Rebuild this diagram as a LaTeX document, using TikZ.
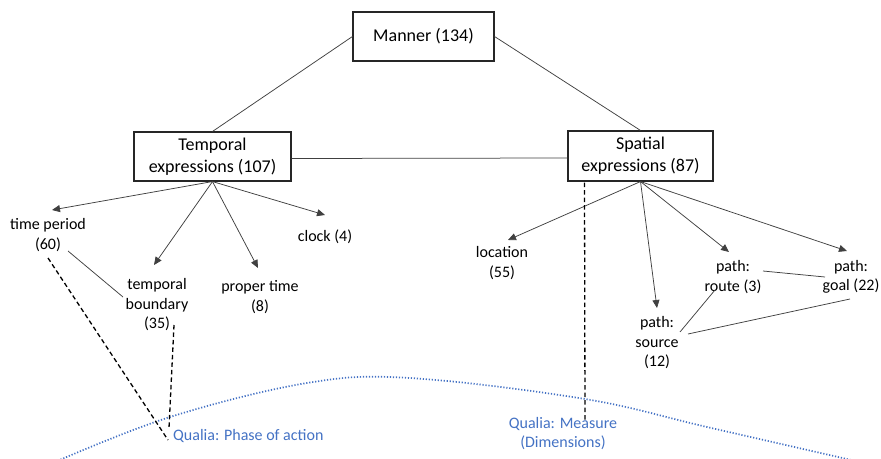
\documentclass[tikz,border=0pt]{standalone}
\usepackage{fontspec}
\setmainfont{Carlito}
\usetikzlibrary{arrows.meta,calc}
\definecolor{qblue}{HTML}{4472C4}
\definecolor{lgray}{HTML}{404040}
\begin{document}
\begin{tikzpicture}[x=1pt,y=-1pt,
  catbox/.style={draw=black!85,line width=1.1pt,align=center,inner sep=0pt,
     font=\fontsize{18}{22}\selectfont},
  leaf/.style={align=center,inner sep=1pt,font=\fontsize{16}{19.5}\selectfont},
  qual/.style={align=center,inner sep=1pt,text=qblue,font=\fontsize{16}{19}\selectfont},
  conn/.style={draw=lgray,line width=0.75pt},
  arr/.style={conn,-{Triangle[length=8pt,width=7pt]}},
  dsh/.style={draw=black,line width=1.3pt,dash pattern=on 4.5pt off 3pt},
  dotb/.style={draw=qblue,line width=1.7pt,dash pattern=on 1.2pt off 1.8pt}]
\useasboundingbox (0,0) rectangle (881,458);
\begin{scope}
\clip (0,0) rectangle (881,458);
\draw[dotb] plot[smooth,tension=0.6] coordinates {(55,462) (170,417) (307,383) (410,378) (585,399) (707,427) (860,462)};
\end{scope}

% main boxes
\node[catbox,minimum width=141pt,minimum height=49pt] (M) at (423.5,36.5) {Manner (134)};
\node[catbox,minimum width=157pt,minimum height=49pt] (T) at (212.5,156.5) {Temporal\\expressions (107)};
\node[catbox,minimum width=145pt,minimum height=50pt] (S) at (640.5,156) {Spatial\\expressions (87)};

% leaves
\node[leaf] (tp) at (48,235) {time period\\(60)};
\node[leaf] (tb) at (157,305) {temporal\\boundary\\(35)};
\node[leaf] (pt) at (260,297) {proper time\\(8)};
\node[leaf] (ck) at (325,237) {clock (4)};
\node[leaf] (loc) at (502,263) {location\\(55)};
\node[leaf] (src) at (657,343) {path:\\source\\(12)};
\node[leaf] (rt) at (733,277) {path:\\route (3)};
\node[leaf] (gl) at (851,277) {path:\\goal (22)};

% qualia labels
\node[qual,anchor=west] (q1) at (172,436) {Qualia: Phase of action};
\node[qual] (q2) at (563,434) {Qualia: Measure\\(Dimensions)};

% top connectors
\draw[conn] (M.west) -- (T.north);
\draw[conn] (M.east) -- (S.north);
\draw[conn] ([yshift=-2pt]T.east) -- ([yshift=-2pt]S.west);

% arrows from Temporal
\draw[arr] (T.south) -- ($(tp)+(4,-25)$);
\draw[arr] (T.south) -- ($(tb)+(-3,-40)$);
\draw[arr] (T.south) -- ($(pt)+(-2,-29)$);
\draw[arr] (T.south) -- ($(ck)+(0,-22)$);

% arrows from Spatial
\draw[arr] (S.south) -- ($(loc)+(6,-23)$);
\draw[arr] (S.south) -- ($(src)+(0,-35)$);
\draw[arr] (S.south) -- ($(rt)+(-4,-25)$);
\draw[arr] (S.south) -- ($(gl)+(-4,-26)$);

% leaf-to-leaf lines
\draw[conn] ($(tp)+(20,16)$) -- ($(tb)+(-34,-8)$);
\draw[conn] ($(rt)+(30,-6)$) -- ($(gl)+(-26,0)$);
\draw[conn] ($(rt)+(-18,13)$) -- ($(src)+(23,-11)$);
\draw[conn] ($(gl)+(-1,22)$) -- ($(src)+(31,-9)$);

% dashed links to qualia
\draw[dsh] ($(tp)+(0,23)$) -- ($(q1.west)+(-4,4)$);
\draw[dsh] ($(tb)+(17,20)$) -- ($(q1.west)+(-3,-8)$);
\draw[dsh] ($(S.south)+(-56,1)$) -- ($(q2)+(22,-12)$);
\end{tikzpicture}
\end{document}
